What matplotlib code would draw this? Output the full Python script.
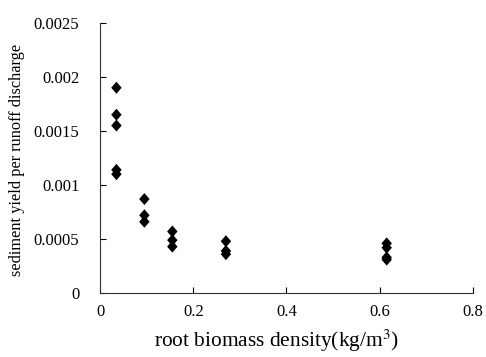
import matplotlib.pyplot as plt

plt.rcParams['font.family'] = ['Liberation Serif', 'DejaVu Serif']
plt.rcParams['mathtext.fontset'] = 'stix'

# root biomass density (kg/m3) and sediment yield per runoff discharge
density = [0.035, 0.035, 0.035, 0.035, 0.035,
           0.095, 0.095, 0.095,
           0.155, 0.155, 0.155,
           0.27, 0.27, 0.27,
           0.615, 0.615, 0.615, 0.615]
sediment = [0.0019, 0.00165, 0.00155, 0.00114, 0.00110,
            0.00087, 0.00072, 0.00066,
            0.00057, 0.00049, 0.00043,
            0.00048, 0.00039, 0.00036,
            0.00046, 0.00042, 0.00033, 0.00031]

xticks = [0, 0.2, 0.4, 0.6, 0.8]
xticklabels = ['0', '0.2', '0.4', '0.6', '0.8']
yticks = [0, 0.0005, 0.001, 0.0015, 0.002, 0.0025]
yticklabels = ['0', '0.0005', '0.001', '0.0015', '0.002', '0.0025']

fig = plt.figure(figsize=(4.86, 3.57), dpi=100)
ax = fig.add_axes([0.206, 0.179, 0.767, 0.757])

# slightly taller diamond, like the spreadsheet marker
diamond = [(0, 1.15), (1, 0), (0, -1.15), (-1, 0), (0, 1.15)]
ax.scatter(density, sediment, marker=diamond, s=75, color='black', edgecolors='none')

ax.set_xlim(0, 0.8)
ax.set_ylim(0, 0.0025)
ax.set_xticks(xticks)
ax.set_xticklabels(xticklabels)
ax.set_yticks(yticks)
ax.set_yticklabels(yticklabels)
ax.tick_params(direction='in', length=4, width=0.8, labelsize=12)
ax.tick_params(axis='y', pad=15)
ax.tick_params(axis='x', pad=8)

ax.spines['top'].set_visible(False)
ax.spines['right'].set_visible(False)
for s in ['left', 'bottom']:
    ax.spines[s].set_linewidth(0.8)
    ax.spines[s].set_color('#333333')

ax.set_xlabel('root biomass density(kg/m$^3$)', fontsize=15.4)
ax.set_ylabel('sediment yield per runoff discharge', fontsize=11.8)
ax.xaxis.set_label_coords(0.473, -0.128)
ax.yaxis.set_label_coords(-0.201, 0.494)

plt.savefig('out.png', dpi=100)
